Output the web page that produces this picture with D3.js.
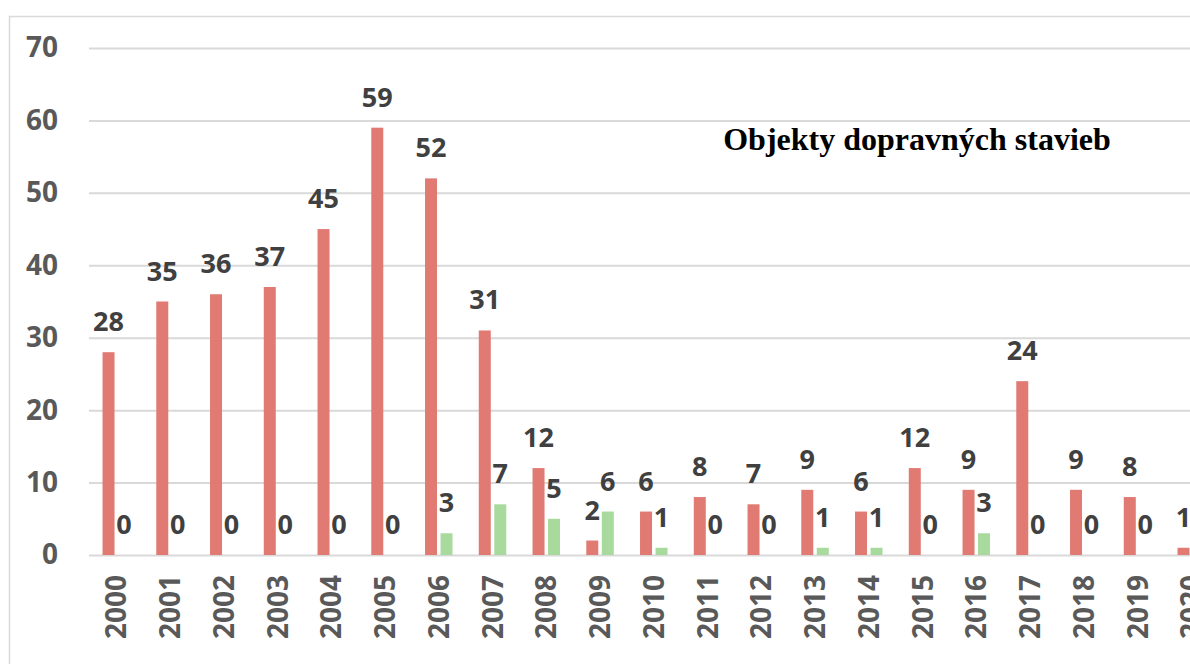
<!DOCTYPE html>
<html>
<head>
<meta charset="utf-8">
<script src="https://cdn.jsdelivr.net/npm/d3@7"></script>
<style>
  body { margin: 0; background: #fff; overflow: hidden; }
  svg { display: block; }
  .num { font-family: "Open Sans", sans-serif; font-weight: 700; }
</style>
</head>
<body>
<div id="chart"></div>
<script>
const years = ["2000", "2001", "2002", "2003", "2004", "2005", "2006", "2007", "2008", "2009",
  "2010", "2011", "2012", "2013", "2014", "2015", "2016", "2017", "2018", "2019", "2020"];
const redValues = [28, 35, 36, 37, 45, 59, 52, 31, 12, 2, 6, 8, 7, 9, 6, 12, 9, 24, 9, 8, 1];
const greenValues = [0, 0, 0, 0, 0, 0, 3, 7, 5, 6, 1, 0, 0, 1, 1, 0, 3, 0, 0, 0, 0];
const yTicks = [0, 10, 20, 30, 40, 50, 60, 70];
const seriesNames = ["red", "green"];
const colors = { red: "#e07a73", green: "#a8da9e" };
const chartTitle = "Objekty dopravných stavieb";

const width = 1190, height = 664;

const svg = d3.select("#chart").append("svg")
  .attr("width", width)
  .attr("height", height);

// rámik grafu
svg.append("rect")
  .attr("x", 9.5).attr("y", 16.5)
  .attr("width", 1300).attr("height", 800)
  .attr("fill", "none")
  .attr("stroke", "#d9d9d9")
  .attr("stroke-width", 1.5);

const y = d3.scaleLinear().domain([0, 70]).range([555, 48]);
const x0 = d3.scaleBand().domain(years).range([89.4, 89.4 + 21 * 53.75]);
const x1 = d3.scaleBand().domain(seriesNames)
  .range([0, x0.bandwidth()])
  .paddingInner(0.226)
  .paddingOuter(0.847);

// mriežka
const yAxis = d3.axisLeft(y).tickValues(yTicks).tickSize(-(width - 89)).tickPadding(31);
const gy = svg.append("g")
  .attr("transform", "translate(89,0)")
  .call(yAxis);
gy.select(".domain").remove();
gy.selectAll(".tick line").attr("stroke", "#d9d9d9").attr("stroke-width", 2);
gy.selectAll(".tick text")
  .attr("class", "num")
  .attr("fill", "#595959")
  .style("font-size", "28px");

// os x
const xAxis = d3.axisBottom(x0).tickSize(0).tickPadding(0);
const gx = svg.append("g")
  .attr("transform", "translate(0,575)")
  .call(xAxis);
gx.select(".domain").remove();
gx.selectAll(".tick text")
  .attr("class", "num")
  .attr("fill", "#595959")
  .style("font-size", "28px")
  .attr("text-anchor", "end")
  .attr("transform", "rotate(-90)")
  .attr("x", 0)
  .attr("y", 0)
  .attr("dy", "0.36em");

const rows = years.map((yr, i) => ({ year: yr, red: redValues[i], green: greenValues[i] }));

const groups = svg.append("g").selectAll("g")
  .data(rows)
  .join("g")
  .attr("transform", d => `translate(${x0(d.year)},0)`);

groups.selectAll("rect")
  .data(d => seriesNames.map(k => ({ key: k, value: d[k] })))
  .join("rect")
  .attr("x", d => x1(d.key))
  .attr("y", d => y(d.value))
  .attr("width", x1.bandwidth())
  .attr("height", d => y(0) - y(d.value))
  .attr("fill", d => colors[d.key]);

groups.selectAll("text")
  .data(d => seriesNames.map(k => ({ key: k, value: d[k] })))
  .join("text")
  .attr("class", "num")
  .attr("x", d => x1(d.key) + x1.bandwidth() / 2)
  .attr("y", d => y(d.value) - 21)
  .attr("text-anchor", "middle")
  .attr("fill", "#404040")
  .style("font-size", "27px")
  .text(d => d.value);

svg.append("text")
  .attr("x", 917)
  .attr("y", 150)
  .attr("text-anchor", "middle")
  .style("font-family", "'Liberation Serif', 'Times New Roman', serif")
  .style("font-weight", "700")
  .style("font-size", "32px")
  .attr("fill", "#000")
  .text(chartTitle);
</script>
</body>
</html>
